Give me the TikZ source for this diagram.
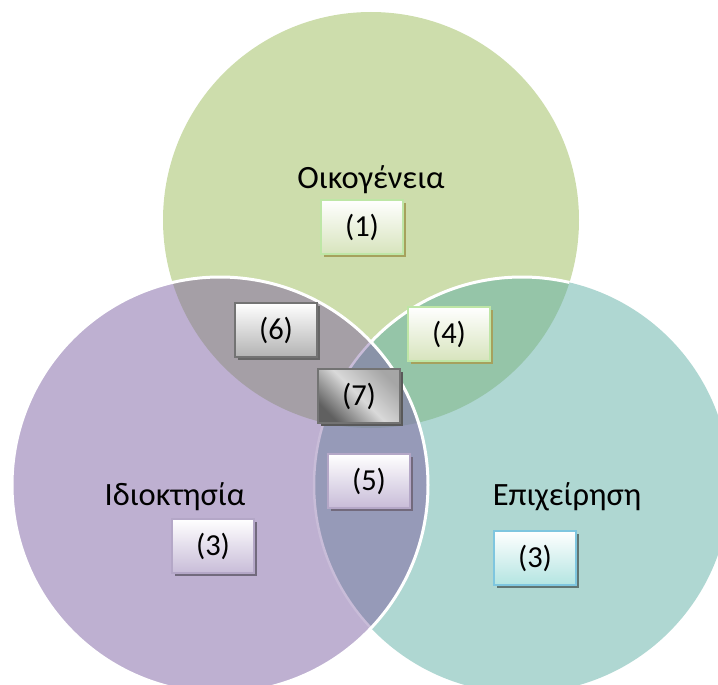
\documentclass[tikz,border=0pt]{standalone}
\usepackage{fontspec}
\setmainfont{Carlito}
\usetikzlibrary{positioning,shadows}

\definecolor{famgreen}{HTML}{CDDDAC}
\definecolor{bizteal}{HTML}{AFD7D2}
\definecolor{ownpurple}{HTML}{BEB0D1}
\definecolor{famown}{HTML}{A59FA6}
\definecolor{fambiz}{HTML}{95C5A8}
\definecolor{ownbiz}{HTML}{969AB8}
\definecolor{allthree}{HTML}{8A93A8}

\begin{document}
\begin{tikzpicture}[x=1pt, y=-1pt,
    title/.style={font=\fontsize{32.5}{36}\selectfont},
    numbox/.style={draw, line width=2pt, minimum width=82pt, minimum height=54pt, inner sep=0pt, font=\fontsize{30.5}{32}\selectfont},
    greenbox/.style={numbox, draw=green!45!olive!35, top color=white, bottom color=famgreen!80,
        general shadow={fill=olive!55!gray!80, shadow xshift=3pt, shadow yshift=-3pt}},
    purplebox/.style={numbox, draw=ownpurple!95!black, top color=white, bottom color=ownpurple!85,
        general shadow={fill=ownpurple!60!black, shadow xshift=3pt, shadow yshift=-3pt}},
    tealbox/.style={numbox, draw=cyan!35!bizteal, top color=white, bottom color=cyan!12!bizteal!75,
        general shadow={fill=bizteal!55!black, shadow xshift=3pt, shadow yshift=-3pt}},
    greybox/.style={numbox, draw=gray!90!black, top color=white, bottom color=gray!60,
        general shadow={fill=gray!80!black, shadow xshift=3pt, shadow yshift=-3pt}},
    darkbox/.style={numbox, draw=gray!90!black, left color=gray!75!black, right color=gray!70,
        middle color=gray!30, shading angle=135,
        general shadow={fill=gray!70!black, shadow xshift=3pt, shadow yshift=-3pt}},
    ring/.style={white, line width=3pt}
]

\useasboundingbox (0,0) rectangle (718,685);
\clip (0,0) rectangle (718,685);

\coordinate (fam) at (371,220);
\coordinate (own) at (220,485);
\coordinate (biz) at (522,485);

% circles
\fill[famgreen] (fam) circle[radius=208pt];
\fill[bizteal] (biz) circle[radius=208pt];
\begin{scope}
  \clip (biz) circle[radius=208pt];
  \fill[fambiz] (fam) circle[radius=208pt];
\end{scope}
\begin{scope}
  \clip (fam) circle[radius=208pt];
  \draw[ring] (biz) circle[radius=208pt];
\end{scope}
\fill[ownpurple] (own) circle[radius=208pt];
\begin{scope}
  \clip (own) circle[radius=208pt];
  \fill[famown] (fam) circle[radius=208pt];
  \fill[ownbiz] (biz) circle[radius=208pt];
  \clip (fam) circle[radius=208pt];
  \fill[allthree] (biz) circle[radius=208pt];
\end{scope}
\begin{scope}
  \clip (own) circle[radius=208pt];
  \draw[ownpurple!85!white, line width=2.5pt] (biz) circle[radius=208pt];
\end{scope}
\draw[ring] (own) circle[radius=208pt];

% labels
\node[title] (famtxt) at (371,180) {Οικογένεια};
\node[title] (owntxt) at (175,497) {Ιδιοκτησία};
\node[title] (biztxt) at (567,497) {Επιχείρηση};

% boxes
\node[greenbox] (n1) at (362,227) {(1)};
\node[greybox] (n6) at (276,330) {(6)};
\node[greenbox] (n4) at (449,334) {(4)};
\node[darkbox] (n7) at (359,396) {(7)};
\node[purplebox] (n5) at (369,481) {(5)};
\node[purplebox] (n3a) at (213,546) {(3)};
\node[tealbox] (n3b) at (535,558) {(3)};

\end{tikzpicture}
\end{document}
